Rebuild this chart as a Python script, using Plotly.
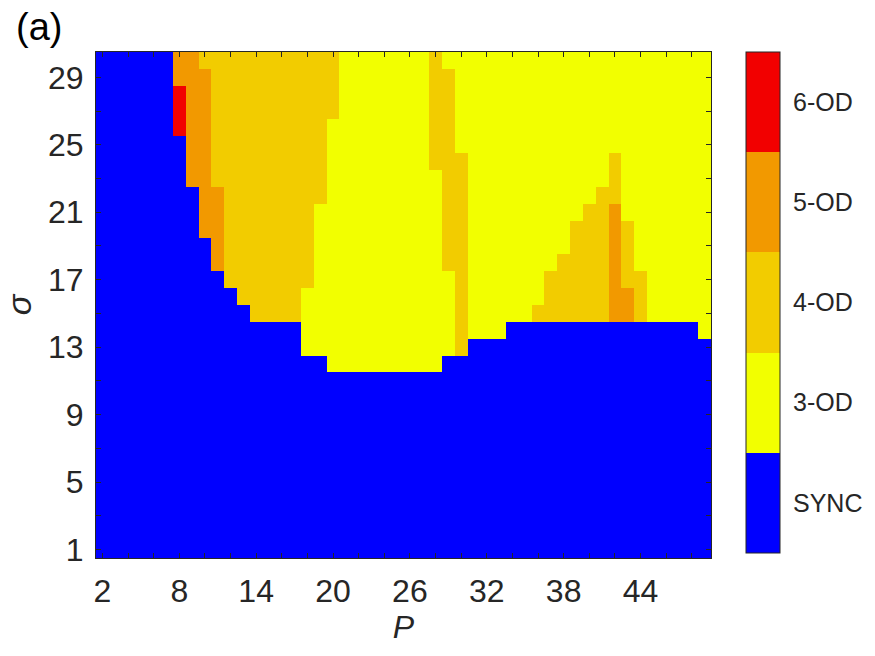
import plotly.graph_objects as go

# ---------------- data ----------------
P_values = [2, 3, 4, 5, 6, 7, 8, 9, 10, 11, 12, 13, 14, 15, 16, 17, 18, 19, 20,
            21, 22, 23, 24, 25, 26, 27, 28, 29, 30, 31, 32, 33, 34, 35, 36, 37,
            38, 39, 40, 41, 42, 43, 44, 45, 46, 47, 48, 49]
sigma_values = [1, 2, 3, 4, 5, 6, 7, 8, 9, 10, 11, 12, 13, 14, 15, 16, 17, 18,
                19, 20, 21, 22, 23, 24, 25, 26, 27, 28, 29, 30]

regime_labels = ["SYNC", "3-OD", "4-OD", "5-OD", "6-OD"]
regime_colors = ["#0000FF", "#F2FF00", "#F2CC00", "#F29900", "#F20000"]

x_tick_labels = [2, 8, 14, 20, 26, 32, 38, 44]
y_tick_labels = [1, 5, 9, 13, 17, 21, 25, 29]

# regime code per cell (0=SYNC,1=3-OD,2=4-OD,3=5-OD,4=6-OD)
# one string per sigma row, from sigma=30 (top) down to sigma=1; columns P=2..49
regime_rows = [
    "000000 33 22222222222 1111111 2 111111111111111111111",        # 30
    "000000 333 2222222222 1111111 22 11111111111111111111",        # 29
    "000000 4 33 2222222222 1111111 22 11111111111111111111",       # 28
    "000000 4 33 2222222222 1111111 22 11111111111111111111",       # 27
    "000000 4 33 222222222 11111111 22 11111111111111111111",       # 26
    "0000000 33 222222222 11111111 22 11111111111111111111",        # 25
    "0000000 33 222222222 11111111 222 11111111111 2 1111111",      # 24
    "0000000 33 222222222 111111111 22 11111111111 2 1111111",      # 23
    "00000000 33 22222222 111111111 22 1111111111 22 1111111",      # 22
    "00000000 33 2222222 1111111111 22 111111111 22 3 1111111",     # 21
    "00000000 33 2222222 1111111111 22 11111111 222 3 2 111111",    # 20
    "000000000 3 2222222 1111111111 22 11111111 222 3 2 111111",    # 19
    "000000000 3 2222222 1111111111 22 1111111 2222 3 2 111111",    # 18
    "0000000000 2222222 11111111111 2 111111 22222 3 22 11111",     # 17
    "00000000000 22222 111111111111 2 111111 22222 33 2 11111",     # 16
    "000000000000 2222 111111111111 2 11111 222222 33 2 11111",     # 15
    "0000000000000000 111111111111 2 111 000000000000000 1",        # 14
    "0000000000000000 111111111111 2 0000000000000000000",          # 13
    "000000000000000000 111111111 000000000000000000000",           # 12
    "000000000000000000000000000000000000000000000000",             # 11
    "000000000000000000000000000000000000000000000000",             # 10
    "000000000000000000000000000000000000000000000000",             # 9
    "000000000000000000000000000000000000000000000000",             # 8
    "000000000000000000000000000000000000000000000000",             # 7
    "000000000000000000000000000000000000000000000000",             # 6
    "000000000000000000000000000000000000000000000000",             # 5
    "000000000000000000000000000000000000000000000000",             # 4
    "000000000000000000000000000000000000000000000000",             # 3
    "000000000000000000000000000000000000000000000000",             # 2
    "000000000000000000000000000000000000000000000000",             # 1
]

# ---------------- build grid ----------------
z_top_down = []
for i, row in enumerate(regime_rows):
    cells = [int(c) for c in row.replace(" ", "")]
    assert len(cells) == len(P_values), (30 - i, len(cells))
    z_top_down.append(cells)
z = z_top_down[::-1]  # ascending sigma

n = len(regime_colors)
colorscale = []
for k, c in enumerate(regime_colors):
    colorscale.append([k / n, c])
    colorscale.append([(k + 1) / n, c])

AX = "#262626"
FONT = "Liberation Sans, Arial, sans-serif"

fig = go.Figure(go.Heatmap(
    x=P_values, y=sigma_values, z=z,
    colorscale=colorscale, zmin=-0.5, zmax=n - 0.5,
    hoverongaps=False,
    colorbar=dict(
        tickmode="array", tickvals=list(range(n)), ticktext=regime_labels,
        ticks="outside", ticklen=8, tickwidth=1, tickcolor="rgba(0,0,0,0)",
        outlinecolor=AX, outlinewidth=1,
        thickness=34, thicknessmode="pixels",
        len=0.99, lenmode="fraction",
        x=1.0567, xanchor="left", xpad=0,
        y=1, yanchor="top", ypad=0,
        tickfont=dict(family=FONT, size=25, color=AX),
    ),
))

common = dict(
    ticks="inside", ticklen=5, tickwidth=1, tickcolor=AX,
    showline=True, linecolor=AX, linewidth=1, mirror="ticks",
    showgrid=False, zeroline=False,
    tickfont=dict(family=FONT, size=32, color=AX),
)

fig.update_xaxes(
    range=[1.5, 49.5], tickmode="array", tickvals=x_tick_labels,
    ticktext=[str(v) for v in x_tick_labels],
    minor=dict(tick0=2, dtick=2, ticks="inside", ticklen=5, tickwidth=1, tickcolor=AX),
    ticklabelstandoff=5,
    title=dict(text="<i>P</i>", font=dict(family=FONT, size=32, color=AX), standoff=6),
    **common,
)
fig.update_yaxes(
    range=[0.5, 30.5], tickmode="array", tickvals=y_tick_labels,
    ticktext=[str(v) for v in y_tick_labels],
    minor=dict(tick0=1, dtick=2, ticks="inside", ticklen=5, tickwidth=1, tickcolor=AX),
    ticklabelstandoff=5,
    title=dict(text="<i>σ</i>", font=dict(family=FONT, size=34, color=AX), standoff=6),
    **common,
)

fig.add_annotation(
    text="(a)", xref="paper", yref="paper", x=-0.134, y=1.05,
    xanchor="left", yanchor="middle", showarrow=False,
    font=dict(family=FONT, size=38, color="#000000"),
)

fig.update_layout(
    width=875, height=656,
    margin=dict(l=96, r=157, t=52, b=98, pad=0),
    paper_bgcolor="white", plot_bgcolor="white",
    font=dict(family=FONT, color=AX),
)

# remove the default 8px page margin so the figure fills the window exactly
fig.write_html(
    "out.html",
    config={"displayModeBar": False, "staticPlot": True},
    post_script="document.body.style.margin='0';document.body.style.overflow='hidden';",
)
